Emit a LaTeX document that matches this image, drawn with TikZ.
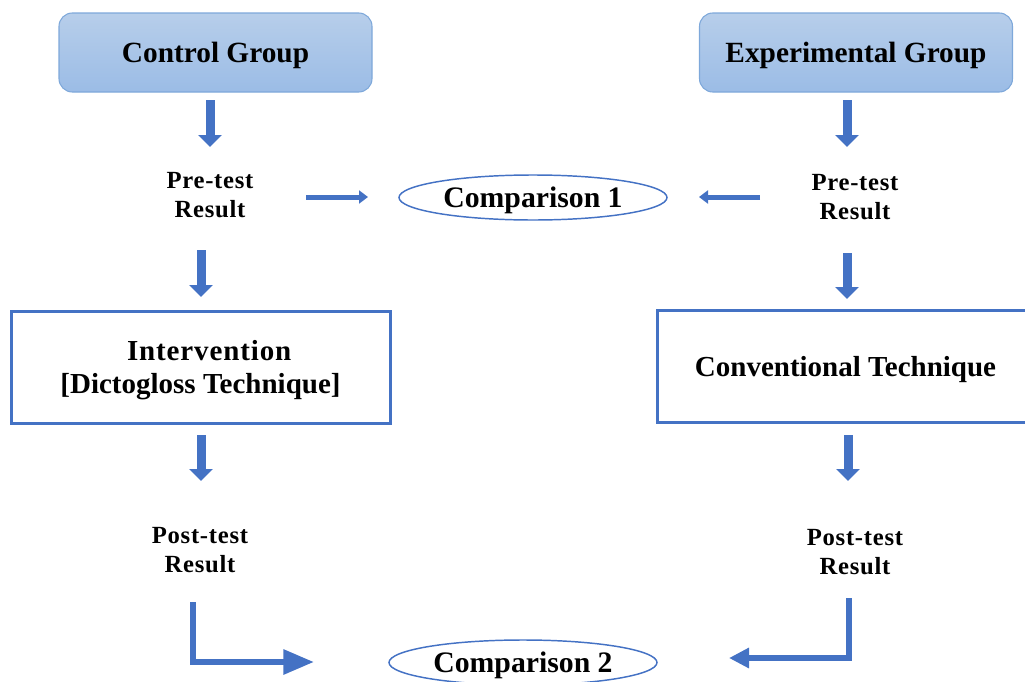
\documentclass[tikz,border=0pt]{standalone}
\usepackage{fontspec}
\setmainfont{Liberation Serif}
\usetikzlibrary{arrows.meta,shapes.geometric}
\definecolor{abl}{HTML}{4472C4}
\definecolor{gtop}{HTML}{B7CEEA}
\definecolor{gbot}{HTML}{9BBCE6}
\definecolor{gbrd}{HTML}{7EA8DA}
\begin{document}
\begin{tikzpicture}[x=0.75pt,y=-0.75pt,
  group/.style={rounded corners=10pt, draw=gbrd, line width=0.8pt, top color=gtop, bottom color=gbot,
    minimum width=234.75pt, minimum height=59.25pt, inner sep=0pt, text depth=0pt,
    font=\fontsize{22}{26}\selectfont\bfseries},
  result/.style={align=center, inner sep=0pt,
    font=\fontsize{18.5}{21.75}\selectfont\bfseries\addfontfeature{LetterSpace=3}},
  cmp/.style={ellipse, draw=abl, line width=1.1pt, minimum width=201pt, minimum height=33.75pt, inner sep=0pt,
    text depth=0pt, font=\fontsize{22.3}{26}\selectfont\bfseries},
  stage/.style={draw=abl, line width=2.25pt, minimum height=84pt, inner sep=0pt, align=center,
    text depth=0pt, font=\fontsize{21.75}{24.75}\selectfont\bfseries},
  downarr/.style={draw=abl, line width=6.75pt, -{Triangle[width=17.25pt,length=9pt]}},
  sidearr/.style={draw=abl, line width=3.75pt, -{Triangle[width=9.75pt,length=6.75pt]}},
  elbarr/.style={draw=abl, line width=4.5pt, line join=miter},
]
\useasboundingbox (0,0) rectangle (1025,682);
\clip (0,0) rectangle (1025,682);

% nodes
\node[group] (cg) at (215.5,52.5) {Control Group};
\node[group] (eg) at (856,52.5) {Experimental Group};
\node[result] (pre1) at (210,195) {Pre-test\\Result};
\node[result] (pre2) at (855,197) {Pre-test\\Result};
\node[cmp] (c1) at (533,197.5) {Comparison 1};
\node[stage, minimum width=284.25pt] (int) at (200.5,367) {\hspace*{13pt}{\addfontfeature{LetterSpace=3}Intervention}\\{}[Dictogloss Technique]};
\node[stage, minimum width=282.75pt] (conv) at (845.5,366) {Conventional Technique};
\node[result] (post1) at (200,550) {Post-test\\Result};
\node[result] (post2) at (855,552) {Post-test\\Result};
\node[cmp] (c2) at (523,662.5) {Comparison 2};

% arrow end points
\coordinate (a1s) at (210,100);  \coordinate (a1e) at (210,147);
\coordinate (b1s) at (847,100);  \coordinate (b1e) at (847,147);
\coordinate (a2s) at (201,250);  \coordinate (a2e) at (201,297);
\coordinate (b2s) at (847,253);  \coordinate (b2e) at (847,299);
\coordinate (a3s) at (201,435);  \coordinate (a3e) at (201,481);
\coordinate (b3s) at (848,435);  \coordinate (b3e) at (848,481);
\coordinate (h1s) at (306,197);  \coordinate (h1e) at (368,197);
\coordinate (h2s) at (760,197);  \coordinate (h2e) at (699,197);
\coordinate (e1s) at (193,602);  \coordinate (e1e) at (314,662);
\coordinate (e2s) at (849,598);  \coordinate (e2e) at (729,658);

% connectors
\draw[downarr] (a1s) -- (a1e);
\draw[downarr] (b1s) -- (b1e);
\draw[downarr] (a2s) -- (a2e);
\draw[downarr] (b2s) -- (b2e);
\draw[downarr] (a3s) -- (a3e);
\draw[downarr] (b3s) -- (b3e);
\draw[sidearr] (h1s) -- (h1e);
\draw[sidearr] (h2s) -- (h2e);
\draw[elbarr, -{Triangle[width=18pt,length=23pt]}] (e1s) |- (e1e);
\draw[elbarr, -{Triangle[width=14.5pt,length=15pt]}] (e2s) |- (e2e);
\end{tikzpicture}
\end{document}
